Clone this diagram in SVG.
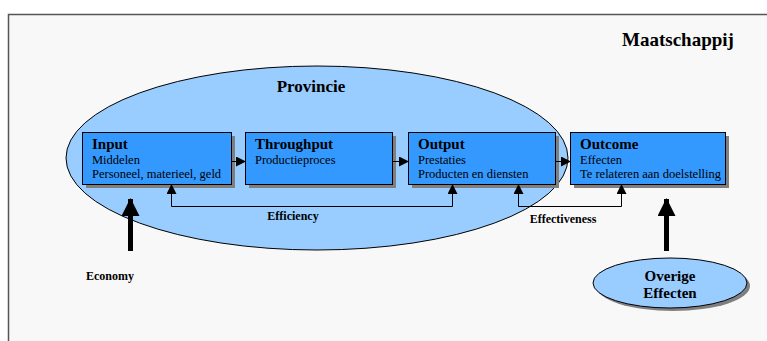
<svg xmlns="http://www.w3.org/2000/svg" width="767" height="341" viewBox="0 0 767 341" font-family="'Liberation Serif', 'Times New Roman', serif">
<defs>
<style>
text{font-family:'Liberation Serif','Times New Roman',serif;fill:#000}
.b{font-weight:bold}
.box{fill:#3399ff;stroke:#000;stroke-width:1}
.sh{fill:#7f7f7f}
.ln{fill:none;stroke:#000;stroke-width:1}
.big{fill:none;stroke:#000;stroke-width:5}
</style>
<marker id="ah" markerWidth="10" markerHeight="10" refX="9" refY="5" orient="auto-start-reverse" markerUnits="userSpaceOnUse">
<path d="M0,0 L10,5 L0,10 Z" fill="#000"/>
</marker>
<marker id="bh" markerWidth="18" markerHeight="18" refX="17" refY="9" orient="auto" markerUnits="userSpaceOnUse">
<path d="M0,0 L18,9 L0,18 Z" fill="#000"/>
</marker>
</defs>
<rect x="0" y="0" width="767" height="341" fill="#ffffff"/>
<rect x="8" y="14" width="770" height="340" fill="#f8f8f8"/>
<path d="M8.5,341 L8.5,14.5 L767,14.5" fill="none" stroke="#555" stroke-width="1.5"/>
<text class="b" x="622" y="46" font-size="19">Maatschappij</text>

<g id="provincie">
<ellipse cx="317" cy="158" rx="251" ry="92" fill="#99ccff" stroke="#000" stroke-width="1"/>
<text class="b" x="311" y="92" font-size="17" text-anchor="middle">Provincie</text>
</g>

<g id="input">
<rect class="sh" x="86" y="136" width="149" height="52"/>
<rect class="box" x="82.5" y="132.5" width="149" height="52"/>
<text class="b" x="92" y="149" font-size="15">Input</text>
<text x="92" y="164" font-size="12.5">Middelen</text>
<text x="92" y="178" font-size="12.5">Personeel, materieel, geld</text>
</g>

<g id="throughput">
<rect class="sh" x="249" y="136" width="147" height="52"/>
<rect class="box" x="245.5" y="132.5" width="147" height="52"/>
<text class="b" x="255" y="149" font-size="15">Throughput</text>
<text x="255" y="164" font-size="12.5">Productieproces</text>
</g>

<g id="output">
<rect class="sh" x="412" y="136" width="147" height="52"/>
<rect class="box" x="408.5" y="132.5" width="147" height="52"/>
<text class="b" x="418" y="149" font-size="15">Output</text>
<text x="418" y="164" font-size="12.5">Prestaties</text>
<text x="418" y="178" font-size="12.5">Producten en diensten</text>
</g>

<g id="outcome">
<rect class="sh" x="574" y="136" width="155" height="52"/>
<rect class="box" x="570.5" y="132.5" width="155" height="52"/>
<text class="b" x="580" y="149" font-size="15">Outcome</text>
<text x="580" y="164" font-size="12.5">Effecten</text>
<text x="580" y="178" font-size="12.5">Te relateren aan doelstelling</text>
</g>

<g id="overige">
<ellipse cx="673" cy="286" rx="77" ry="25" fill="#7f7f7f"/>
<ellipse cx="670" cy="283" rx="77" ry="25" fill="#99ccff" stroke="#000" stroke-width="1"/>
<text class="b" x="670" y="281" font-size="15" text-anchor="middle">Overige</text>
<text class="b" x="670" y="298" font-size="15" text-anchor="middle">Effecten</text>
</g>

<g id="connectors">
<line class="ln" x1="232" y1="161.5" x2="245" y2="161.5" marker-end="url(#ah)"/>
<line class="ln" x1="393" y1="161.5" x2="408" y2="161.5" marker-end="url(#ah)"/>
<line class="ln" x1="556" y1="161.5" x2="570" y2="161.5" marker-end="url(#ah)"/>
<path class="ln" d="M171.5,185 L171.5,206.5 L452.5,206.5 L452.5,185" marker-start="url(#ah)" marker-end="url(#ah)"/>
<path class="ln" d="M518.5,185 L518.5,206.5 L621.5,206.5 L621.5,185" marker-start="url(#ah)" marker-end="url(#ah)"/>
<line class="big" x1="130.5" y1="251" x2="130.5" y2="199" marker-end="url(#bh)"/>
<line class="big" x1="666.5" y1="251" x2="666.5" y2="199" marker-end="url(#bh)"/>
<text class="b" x="293" y="220" font-size="12" text-anchor="middle">Efficiency</text>
<text class="b" x="563" y="223" font-size="12" text-anchor="middle">Effectiveness</text>
<text class="b" x="110" y="280" font-size="12" text-anchor="middle">Economy</text>
</g>
</svg>
